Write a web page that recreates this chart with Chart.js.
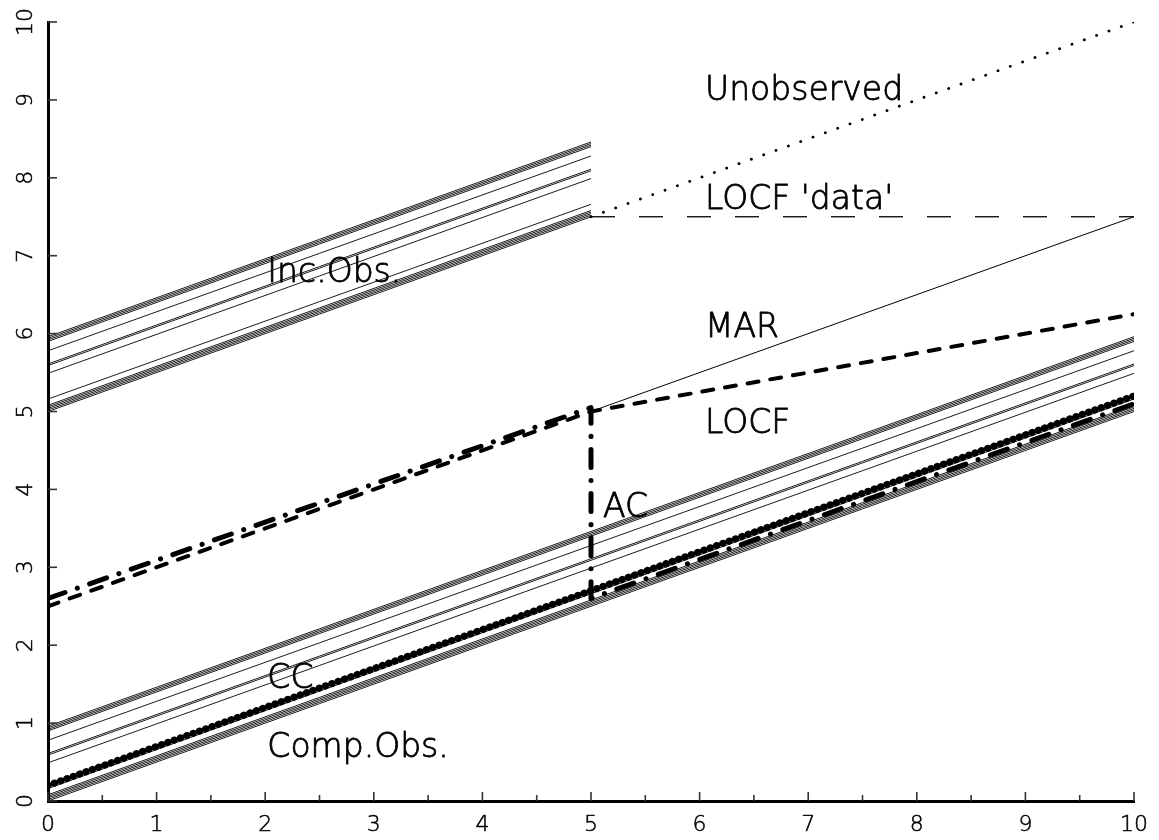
<!DOCTYPE html>
<html>
<head>
<meta charset="utf-8">
<script src="https://cdn.jsdelivr.net/npm/chart.js@4/dist/chart.umd.min.js"></script>
<style>
  html, body { margin: 0; padding: 0; background: #ffffff; }
  #wrap { width: 1159px; height: 840px; }
</style>
</head>
<body>
<div id="wrap"><canvas id="chart" width="1159" height="840"></canvas></div>
<script>
// Axis ticks
const xTickValues = [0, 1, 2, 3, 4, 5, 6, 7, 8, 9, 10];
const yTickValues = [0, 1, 2, 3, 4, 5, 6, 7, 8, 9, 10];

// Completers: observed over the whole period, value at time 0 and time 10
const compX = [0, 10];
const compStart = [0.00, 0.02, 0.04, 0.06, 0.08, 0.16, 0.49, 0.59, 0.61, 0.78, 0.90, 0.92, 0.94, 0.96];
const compEnd   = [5.00, 5.02, 5.04, 5.06, 5.08, 5.16, 5.49, 5.59, 5.61, 5.78, 5.90, 5.92, 5.94, 5.96];

// Incompleters: observed until drop-out at time 5
const incX = [0, 5];
const incStart = [5.00, 5.02, 5.04, 5.06, 5.08, 5.16, 5.49, 5.59, 5.61, 5.78, 5.90, 5.92, 5.94, 5.96];
const incEnd   = [7.50, 7.52, 7.54, 7.56, 7.58, 7.66, 7.99, 8.09, 8.11, 8.28, 8.40, 8.42, 8.44, 8.46];

// Incompleters after drop-out
const unobsX = [5, 10];
const unobsY = [7.5, 10.0];
const locfDataX = [5, 10];
const locfDataY = [7.5, 7.5];

// Estimated mean profiles
const marX = [5, 10];
const marY = [5.0, 7.5];
const locfX = [0, 5, 10];
const locfY = [2.5, 5.0, 6.25];
const acX = [0, 5, 5, 10];
const acY = [2.6, 5.05, 2.6, 5.1];
const ccX = [0, 10];
const ccY = [0.2, 5.2];

// Curve labels, placed in data coordinates (left edge, baseline)
const labelText = ['Unobserved', "LOCF 'data'", 'Inc.Obs.', 'MAR', 'LOCF', 'AC', 'CC', 'Comp.Obs.'];
const labelX    = [6.05, 6.05, 2.02, 6.05, 6.05, 5.11, 2.02, 2.02];
const labelY    = [9.0, 7.6, 6.66, 5.96, 4.73, 3.64, 1.45, 0.56];

const FONT = "'DejaVu Sans', 'Open Sans', sans-serif";
const WEIGHT = '200';

function pts(xs, ys) { return xs.map((x, i) => ({ x: x, y: ys[i] })); }

function lineSet(data, opts) {
  return Object.assign({
    data: data,
    showLine: true,
    fill: false,
    tension: 0,
    pointRadius: 0,
    pointHoverRadius: 0,
    borderColor: '#000000',
    borderWidth: 0.9,
    borderCapStyle: 'butt',
    borderJoinStyle: 'miter'
  }, opts || {});
}

const datasets = [];
compStart.forEach((v, i) => datasets.push(lineSet(pts(compX, [v, compEnd[i]]))));
incStart.forEach((v, i) => datasets.push(lineSet(pts(incX, [v, incEnd[i]]))));
datasets.push(lineSet(pts(unobsX, unobsY), { borderWidth: 2.8, borderDash: [0.1, 13], borderCapStyle: 'round' }));
datasets.push(lineSet(pts(locfDataX, locfDataY), { borderWidth: 1.3, borderDash: [24, 24] }));
datasets.push(lineSet(pts(marX, marY), { borderWidth: 1 }));
datasets.push(lineSet(pts(locfX, locfY), { borderWidth: 4, borderDash: [11, 12], borderCapStyle: 'round', borderJoinStyle: 'round' }));
datasets.push(lineSet(pts(acX, acY), { borderWidth: 5, borderDash: [18, 13, 0.1, 13], borderCapStyle: 'round', borderJoinStyle: 'round' }));
datasets.push(lineSet(pts(ccX, ccY), { borderWidth: 7.2, borderDash: [0.1, 6.6], borderCapStyle: 'round' }));

// Text drawn with a light face plus a thin outline, for an even pen-like stroke
function penText(ctx, s, x, y, w) {
  ctx.lineWidth = w;
  ctx.strokeText(s, x, y);
  ctx.fillText(s, x, y);
}

// Inward tick marks, rotated y labels and curve labels
const decorations = {
  id: 'decorations',
  afterDatasetsDraw(chart) {
    const ctx = chart.ctx;
    const xs = chart.scales.x, ys = chart.scales.y;
    const area = chart.chartArea;
    ctx.save();
    ctx.strokeStyle = '#333333';
    ctx.lineWidth = 1.6;
    xs.ticks.forEach(t => {
      const px = xs.getPixelForValue(t.value);
      const len = Number.isInteger(t.value) ? 9 : 6;
      ctx.beginPath();
      ctx.moveTo(px, area.bottom);
      ctx.lineTo(px, area.bottom - len);
      ctx.stroke();
    });
    ys.ticks.forEach(t => {
      const py = ys.getPixelForValue(t.value);
      ctx.beginPath();
      ctx.moveTo(area.left, py);
      ctx.lineTo(area.left + 9, py);
      ctx.stroke();
    });

    ctx.fillStyle = '#000000';
    ctx.strokeStyle = '#000000';
    ctx.lineJoin = 'round';
    ctx.font = WEIGHT + ' 22px ' + FONT;
    ctx.textAlign = 'center';
    ctx.textBaseline = 'middle';
    yTickValues.forEach(v => {
      const py = ys.getPixelForValue(v);
      ctx.save();
      ctx.translate(area.left - 23, py);
      ctx.rotate(-Math.PI / 2);
      penText(ctx, String(v), 0, 1, 0.5);
      ctx.restore();
    });

    ctx.font = WEIGHT + ' 33px ' + FONT;
    ctx.textAlign = 'left';
    ctx.textBaseline = 'alphabetic';
    labelText.forEach((s, i) => {
      penText(ctx, s, xs.getPixelForValue(labelX[i]), ys.getPixelForValue(labelY[i]), 0.8);
    });
    ctx.restore();
  }
};

// The x tick labels get the same light face with a thin outline
const xLabelPen = {
  id: 'xLabelPen',
  afterDraw(chart) {
    const ctx = chart.ctx;
    const xs = chart.scales.x;
    ctx.save();
    ctx.fillStyle = '#000000';
    ctx.strokeStyle = '#000000';
    ctx.lineJoin = 'round';
    ctx.font = WEIGHT + ' 22px ' + FONT;
    ctx.textAlign = 'center';
    ctx.textBaseline = 'middle';
    xTickValues.forEach(v => {
      ctx.lineWidth = 0.5;
      ctx.strokeText(String(v), xs.getPixelForValue(v), chart.chartArea.bottom + 24);
    });
    ctx.restore();
  }
};

new Chart(document.getElementById('chart'), {
  type: 'scatter',
  data: { datasets: datasets },
  options: {
    responsive: false,
    animation: false,
    devicePixelRatio: 1,
    layout: { padding: { top: 22, right: 20, left: 0, bottom: 0 } },
    plugins: { legend: { display: false }, tooltip: { enabled: false } },
    events: [],
    scales: {
      x: {
        type: 'linear',
        min: 0,
        max: 10,
        afterFit(s) { s.height = 39; },
        afterBuildTicks(s) {
          const t = [];
          xTickValues.forEach((v, i) => {
            t.push({ value: v });
            if (i < xTickValues.length - 1) t.push({ value: (v + xTickValues[i + 1]) / 2 });
          });
          s.ticks = t;
        },
        ticks: {
          autoSkip: false,
          maxRotation: 0,
          minRotation: 0,
          padding: 11,
          color: '#000000',
          font: { family: FONT, size: 22, weight: WEIGHT },
          callback: v => (Number.isInteger(v) ? String(v) : '')
        },
        grid: { display: false, drawTicks: false },
        border: { display: true, color: '#000000', width: 3 }
      },
      y: {
        type: 'linear',
        min: 0,
        max: 10,
        afterFit(s) { s.width = 48; },
        afterBuildTicks(s) { s.ticks = yTickValues.map(v => ({ value: v })); },
        ticks: { display: false },
        grid: { display: false, drawTicks: false },
        border: { display: true, color: '#000000', width: 3 }
      }
    }
  },
  plugins: [decorations, xLabelPen]
});
</script>
</body>
</html>
